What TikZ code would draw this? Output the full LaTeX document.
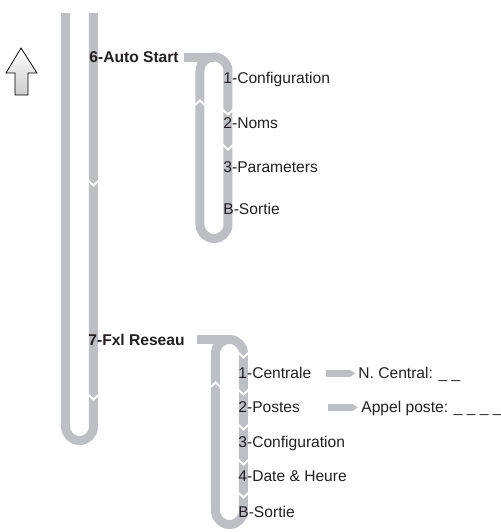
\documentclass[tikz,border=0pt]{standalone}
\usepackage{fontspec}
\setmainfont{Liberation Sans}
\usetikzlibrary{arrows.meta}
\definecolor{bargray}{RGB}{190,191,195}
\definecolor{txtgray}{RGB}{35,31,32}
\colorlet{notchwhite}{white}

\begin{document}
\begin{tikzpicture}[x=0.5pt,y=-0.5pt,
    menubar/.style={draw=bargray, line width=4.5pt, rounded corners=7pt},
    notch/.style={draw=notchwhite, line width=1pt},
    item/.style={anchor=base west, inner sep=0pt, text=txtgray, font=\fontsize{7.8}{9}\selectfont},
    pointer/.style={draw=bargray, line width=3.5pt, -{Triangle[length=3pt, width=0pt 1]}}]
    \useasboundingbox (0,0) rectangle (501,532);
        % up arrow
        \draw[black, line width=0.4pt, top color=white, bottom color=gray!40]
            (21,48)--(37,73)--(28,73)--(28,95)--(15,95)--(15,73)--(6,73)--cycle;
        % main loop
        \draw[menubar](65.5,13)--(65.5,440.5)--(93.5,440.5)--(93.5,13);
        % sub loops
        \draw[menubar](200,57) rectangle (228,238.5);
        \draw[menubar](184,57)--(214,57);
        \draw[menubar](215.5,339.5) rectangle (243.5,524.5);
        \draw[menubar](197,339.5)--(229.5,339.5);
        % notches
        \foreach \x/\y in {93.5/183, 93.5/397, 228/112, 228/147, 243.5/355, 243.5/392, 243.5/427, 243.5/462, 243.5/495}{
            \draw[notch](\x-5.5,\y-2.5)--(\x,\y+2.5)--(\x+5.5,\y-2.5);
        }
        \foreach \x/\y in {200/103, 215.5/385}{
            \draw[notch](\x-5.5,\y+2.5)--(\x,\y-2.5)--(\x+5.5,\y+2.5);
        }
        % menu texts
        \node[item, font=\fontsize{7.8}{9}\selectfont\bfseries] (auto) at (89,62.6) {6-Auto Start};
        \node[item, font=\fontsize{7.8}{9}\selectfont\bfseries] (fxl) at (88,345.6) {7-Fxl Reseau};
        \foreach \y/\name/\txt in {78/conf/1-Configuration, 123/noms/2-Noms, 167/param/3-Parameters, 209/sortieA/B-Sortie}{
            \node[item] (\name) at (223,\y+5.6) {\txt};
        }
        \foreach \y/\name/\txt in {373/centrale/1-Centrale, 407/postes/2-Postes, 442/confB/3-Configuration, 476/date/4-Date \& Heure, 512/sortieB/B-Sortie}{
            \node[item] (\name) at (238,\y+5.6) {\txt};
        }
        \node[item] (ncentral) at (358,378.6) {N. Central: \_ \_};
        \node[item] (appel) at (361,412.6) {Appel poste: \_ \_ \_ \_};
        \draw[pointer]([xshift=-16pt,yshift=2.6pt]ncentral.base west)--([xshift=-1.2pt,yshift=2.6pt]ncentral.base west);
        \draw[pointer]([xshift=-16.5pt,yshift=2.6pt]appel.base west)--([xshift=-1.5pt,yshift=2.6pt]appel.base west);
\end{tikzpicture}
\end{document}
